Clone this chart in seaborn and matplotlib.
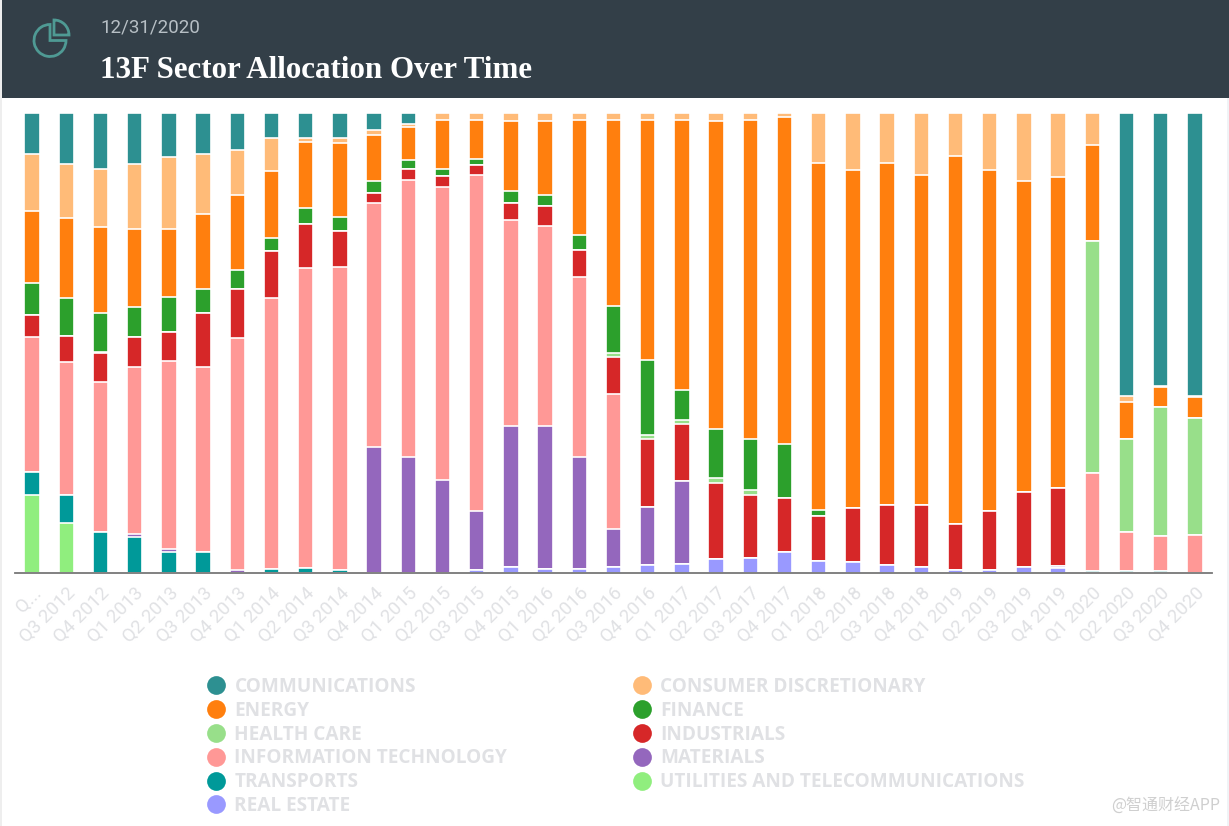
import numpy as np
import pandas as pd
import matplotlib
matplotlib.use("Agg")
import matplotlib.pyplot as plt
from matplotlib.lines import Line2D
from matplotlib.patches import Rectangle, Wedge
import seaborn as sns

quarters = ["Q...", "Q3 2012", "Q4 2012", "Q1 2013", "Q2 2013", "Q3 2013", "Q4 2013",
            "Q1 2014", "Q2 2014", "Q3 2014", "Q4 2014", "Q1 2015", "Q2 2015", "Q3 2015",
            "Q4 2015", "Q1 2016", "Q2 2016", "Q3 2016", "Q4 2016", "Q1 2017", "Q2 2017",
            "Q3 2017", "Q4 2017", "Q1 2018", "Q2 2018", "Q3 2018", "Q4 2018", "Q1 2019",
            "Q2 2019", "Q3 2019", "Q4 2019", "Q1 2020", "Q2 2020", "Q3 2020", "Q4 2020"]

# percent of portfolio per quarter
communications = [8.9, 11.2, 12.2, 11.2, 9.6, 8.9, 8.0, 5.4, 5.4, 5.4, 3.7, 2.4, 0, 0, 0, 0, 0, 0,
                  0, 0, 0, 0, 0, 0, 0, 0, 0, 0, 0, 0, 0, 0, 61.5, 59.4, 61.5]
consumer = [12.4, 11.7, 12.8, 14.0, 15.7, 13.1, 9.9, 7.3, 0.9, 1.2, 1.1, 0.7, 1.5, 1.5, 1.7, 1.7, 1.5, 1.5,
            1.5, 1.5, 1.7, 1.5, 0.9, 10.9, 12.5, 10.9, 13.5, 9.3, 12.5, 14.8, 13.9, 7.0, 1.3, 0.3, 0.3]
energy = [15.7, 17.3, 18.6, 17.0, 14.7, 16.3, 16.2, 14.6, 14.4, 16.0, 10.0, 7.2, 10.7, 8.5, 15.4, 16.1, 25.0, 40.5,
          52.2, 58.7, 67.1, 69.5, 71.1, 75.5, 73.4, 74.4, 71.8, 80.1, 74.0, 67.6, 67.7, 20.9, 8.1, 4.2, 4.5]
finance = [6.9, 8.3, 8.6, 6.6, 7.6, 5.3, 4.2, 2.8, 3.4, 3.0, 2.7, 1.9, 1.6, 1.3, 2.5, 2.5, 3.4, 10.4,
           16.4, 6.6, 10.6, 11.1, 11.7, 1.2, 0, 0, 0, 0, 0, 0, 0, 0, 0, 0, 0]
health_care = [0, 0, 0.2, 0, 0, 0, 0, 0, 0, 0, 0, 0, 0, 0, 0, 0, 0, 0.7,
               0.9, 0.9, 1.1, 1.0, 0, 0, 0, 0, 0, 0, 0, 0, 0, 50.3, 20.2, 28.0, 25.4]
industrials = [4.9, 5.7, 6.2, 6.4, 6.4, 11.7, 10.7, 10.1, 9.6, 7.9, 2.2, 2.4, 2.3, 2.2, 3.7, 4.4, 5.8, 8.2,
               14.7, 12.4, 16.6, 13.7, 11.7, 9.8, 11.7, 13.1, 13.4, 9.9, 12.8, 16.3, 16.8, 0, 0, 0, 0]
info_tech = [29.3, 28.8, 32.8, 36.3, 40.8, 40.2, 50.3, 58.9, 65.0, 65.8, 52.9, 60.3, 63.7, 73.1, 44.7, 43.4, 39.2, 29.4,
             0, 0, 0, 0, 0, 0, 0, 0, 0, 0, 0, 0, 0, 21.4, 8.3, 7.7, 8.2]
materials = [0, 0, 0, 0.7, 0.7, 0, 0.7, 0, 0, 0, 27.3, 25.2, 20.2, 12.8, 30.7, 31.0, 24.2, 8.2,
             12.7, 18.0, 0, 0, 0, 0, 0, 0, 0, 0, 0, 0, 0.5, 0, 0, 0, 0]
transports = [5.1, 6.1, 8.9, 7.8, 4.6, 4.6, 0, 0.9, 1.1, 0.7, 0, 0, 0, 0, 0, 0, 0, 0,
              0, 0, 0, 0, 0, 0, 0, 0, 0, 0, 0, 0, 0, 0.4, 0.5, 0.4, 0]
utilities = [16.9, 10.8, 0, 0, 0, 0, 0, 0, 0, 0, 0, 0, 0, 0, 0, 0, 0, 0,
             0, 0, 0, 0, 0, 0, 0, 0, 0, 0, 0, 0, 0, 0, 0, 0, 0]
real_estate = [0, 0, 0, 0, 0, 0, 0, 0, 0, 0, 0, 0, 0, 0.7, 1.3, 0.9, 0.9, 1.3,
               1.7, 2.0, 3.0, 3.3, 4.6, 2.6, 2.3, 1.7, 1.3, 0.7, 0.7, 1.3, 1.1, 0, 0, 0, 0]

# stacking order, bottom to top
stack = [("REAL ESTATE", real_estate, "#9999ff"),
         ("UTILITIES AND TELECOMMUNICATIONS", utilities, "#90ee7e"),
         ("TRANSPORTS", transports, "#009999"),
         ("MATERIALS", materials, "#9467bd"),
         ("INFORMATION TECHNOLOGY", info_tech, "#ff9896"),
         ("INDUSTRIALS", industrials, "#d62728"),
         ("HEALTH CARE", health_care, "#98df8a"),
         ("FINANCE", finance, "#2ca02c"),
         ("ENERGY", energy, "#ff7f0e"),
         ("CONSUMER DISCRETIONARY", consumer, "#ffbb78"),
         ("COMMUNICATIONS", communications, "#2d9091")]
colors = {name: c for name, _, c in stack}
legend_order = ["COMMUNICATIONS", "ENERGY", "HEALTH CARE", "INFORMATION TECHNOLOGY", "TRANSPORTS", "REAL ESTATE",
                "CONSUMER DISCRETIONARY", "FINANCE", "INDUSTRIALS", "MATERIALS", "UTILITIES AND TELECOMMUNICATIONS"]

W, H = 1229, 826
sns.set_theme(style="white")
plt.rcParams["font.family"] = ["Roboto", "DejaVu Sans"]

fig = plt.figure(figsize=(W / 100, H / 100), dpi=100, facecolor="white")

# header band and icon, in pixel coordinates
bg = fig.add_axes([0, 0, 1, 1])
bg.set_xlim(0, W)
bg.set_ylim(H, 0)
bg.axis("off")
bg.add_patch(Rectangle((1, 0), W - 1, 98, color="#333f48", lw=0))
bg.add_patch(Rectangle((0, 0), 1.5, H, color="#eeeeee", lw=0))
bg.add_patch(Rectangle((W - 2, 98), 2, H - 98, color="#f0f3f6", lw=0))
bg.add_patch(Wedge((50, 40.5), 16, 0, 270, fc="none", ec="#4f9a94", lw=2))
bg.add_patch(Wedge((54, 35), 15, 270, 360, fc="none", ec="#4f9a94", lw=2))
bg.text(100, 27, "12/31/2020", color="#b7bfc5", fontsize=13.5, va="center")
bg.text(100, 71, "13F Sector Allocation Over Time", color="white", fontsize=22.3, fontweight="bold",
        family=["Liberation Serif"], va="center")
bg.text(1220, 806, "@智通财经APP", color="#cfcfcf", fontsize=11.5, ha="right", va="center",
        family=["Noto Sans CJK SC", "DejaVu Sans"])

ax = fig.add_axes([15 / W, 1 - 573 / H, (1212 - 15) / W, (573 - 112.7) / H])
ax.patch.set_alpha(0)

# cumulative bars drawn from the tallest down so they read as a stack
totals = np.cumsum([vals for _, vals, _ in stack], axis=0)
totals = totals / totals[-1] * 100
for (name, vals, color), total in reversed(list(zip(stack, totals))):
    df = pd.DataFrame({"quarter": quarters, "total": total})
    sns.barplot(data=df, x="quarter", y="total", color=color, width=0.45, saturation=1,
                edgecolor="white", linewidth=1.2, ax=ax)

ax.set_xlim(-0.5, len(quarters) - 0.5)
ax.set_ylim(0, 100)
ax.set_xlabel("")
ax.set_ylabel("")
ax.set_yticks([])
sns.despine(ax=ax, left=True)
ax.spines["bottom"].set_color("#777777")
ax.spines["bottom"].set_linewidth(1.3)
ax.tick_params(axis="x", length=0, pad=8)
plt.setp(ax.get_xticklabels(), rotation=45, ha="right", rotation_mode="anchor", color="#e0e1e4", fontsize=13.5)

handles = [Line2D([], [], ls="", marker="o", ms=13.5, mfc=colors[n], mec="none", label=n) for n in legend_order]
leg = ax.legend(handles=handles, ncol=2, frameon=False, loc="upper left",
                bbox_to_anchor=(197 / W, 1 - 677 / H), bbox_transform=fig.transFigure,
                prop={"family": "Open Sans", "weight": "bold", "size": 13.7},
                labelspacing=0.2, handletextpad=-0.03, columnspacing=6.07, borderpad=0, borderaxespad=0)
for t in leg.get_texts():
    t.set_color("#e0e1e4")

fig.savefig("out.png", dpi=100)
